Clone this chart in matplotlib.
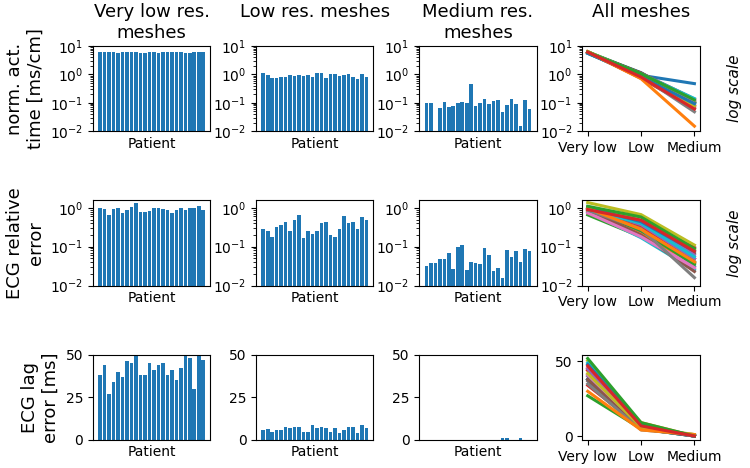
import matplotlib
matplotlib.use("Agg")
import matplotlib.pyplot as plt
import numpy as np

# normalised activation time error [ms/cm], one value per patient
act_very_low = [6.0, 6.0, 6.0, 6.0, 5.6, 6.2, 6.1, 6.1, 6.1, 5.5, 5.5, 6.3,
                6.2, 5.8, 6.1, 5.9, 6.0, 6.0, 6.2, 5.8, 5.5, 6.1, 6.0, 6.0]
act_low = [1.14, 0.92, 0.76, 0.72, 0.83, 0.8, 0.92, 0.9, 0.97, 0.85, 0.92, 0.8,
           1.1, 1.1, 0.76, 1.0, 1.0, 0.85, 0.97, 1.05, 0.82, 0.7, 1.05, 0.8]
act_medium = [0.095, 0.1, np.nan, 0.063, 0.108, 0.07, 0.078, 0.1, 0.108, 0.1, 0.47, 0.078,
              0.1, 0.135, 0.087, 0.115, 0.12, 0.048, 0.08, 0.14, 0.092, 0.015, 0.125, 0.06]

# ECG relative error
ecg_very_low = [0.98, 0.94, 0.66, 0.94, 1.02, 0.74, 0.9, 1.06, 1.37, 0.8, 0.8, 0.84,
                0.98, 1.02, 0.94, 0.9, 0.74, 0.87, 0.98, 0.9, 1.02, 0.98, 1.1, 0.9]
ecg_low = [0.29, 0.26, 0.18, 0.33, 0.37, 0.42, 0.25, 0.48, 0.67, 0.17, 0.25, 0.21,
           0.26, 0.41, 0.44, 0.2, 0.18, 0.29, 0.6, 0.4, 0.44, 0.28, 0.58, 0.48]
ecg_medium = [0.031, 0.037, 0.038, 0.049, 0.049, 0.067, 0.027, 0.096, 0.11, 0.025, 0.041, 0.038,
              0.035, 0.092, 0.061, 0.023, 0.029, 0.016, 0.082, 0.055, 0.076, 0.041, 0.089, 0.076]

# ECG lag error [ms]
lag_very_low = [38, 44, 27, 34, 40, 37, 46, 45, 50.5, 38, 38, 45,
                41, 44, 45, 38, 41, 35, 42, 49, 48, 30, 52, 47]
lag_low = [6, 6.6, 4.9, 6, 6, 7.8, 6.8, 7.8, 7.8, 4.9, 4.9, 9,
           6.8, 7.8, 6.8, 4.9, 6.8, 4.1, 6, 7.8, 7.8, 4.1, 9, 6.8]
lag_medium = [0, 0, 0, 0, 0, 0, 0, 0, 0, 0, 0, 0,
              0, 0, 0, 0, 0, 1.0, 1.0, 0, 0, 1.0, 0, 0]

col_titles = ["Very low res.\nmeshes", "Low res. meshes\n", "Medium res.\nmeshes", "All meshes\n"]
row_labels = ["norm. act.\ntime [ms/cm]", "ECG relative\nerror", "ECG lag\nerror [ms]"]
level_labels = ["Very low", "Low", "Medium"]

rows = [
    (act_very_low, act_low, act_medium),
    (ecg_very_low, ecg_low, ecg_medium),
    (lag_very_low, lag_low, lag_medium),
]
row_log = [True, True, False]
row_ylim = [(1e-2, 1e1), (1e-2, 1.57), (0, 50)]

fig, axes = plt.subplots(3, 4, figsize=(7.5, 4.68), dpi=100)
fig.subplots_adjust(left=0.124, right=0.933, top=0.902, bottom=0.06, wspace=0.39, hspace=0.81)

for r, series in enumerate(rows):
    patients = np.arange(len(series[0]))
    for c in range(3):
        ax = axes[r, c]
        ax.bar(patients, series[c], color="C0")
        if row_log[r]:
            ax.set_yscale("log")
        ax.set_ylim(*row_ylim[r])
        if not row_log[r]:
            ax.set_yticks([0, 25, 50])
        ax.set_xticks([])
        ax.set_xlabel("Patient", fontsize=10)
        ax.tick_params(labelsize=10)
    # all meshes: one line per patient
    ax = axes[r, 3]
    data = np.array(series, dtype=float)
    for i in range(data.shape[1]):
        ax.plot([0, 1, 2], data[:, i], lw=2.2)
    if row_log[r]:
        ax.set_yscale("log")
        ax.set_ylim(*row_ylim[r])
        ax.text(1.3, 0.5, "log scale", rotation=90, style="italic", fontsize=11,
                transform=ax.transAxes, ha="center", va="center")
    else:
        ax.set_yticks([0, 50])
    ax.set_xticks([0, 1, 2])
    ax.set_xticklabels(level_labels)
    ax.tick_params(labelsize=10)
    axes[r, 0].set_ylabel(row_labels[r], fontsize=13)

for c in range(4):
    axes[0, c].set_title(col_titles[c], fontsize=13)

fig.savefig("out.png", dpi=100)
